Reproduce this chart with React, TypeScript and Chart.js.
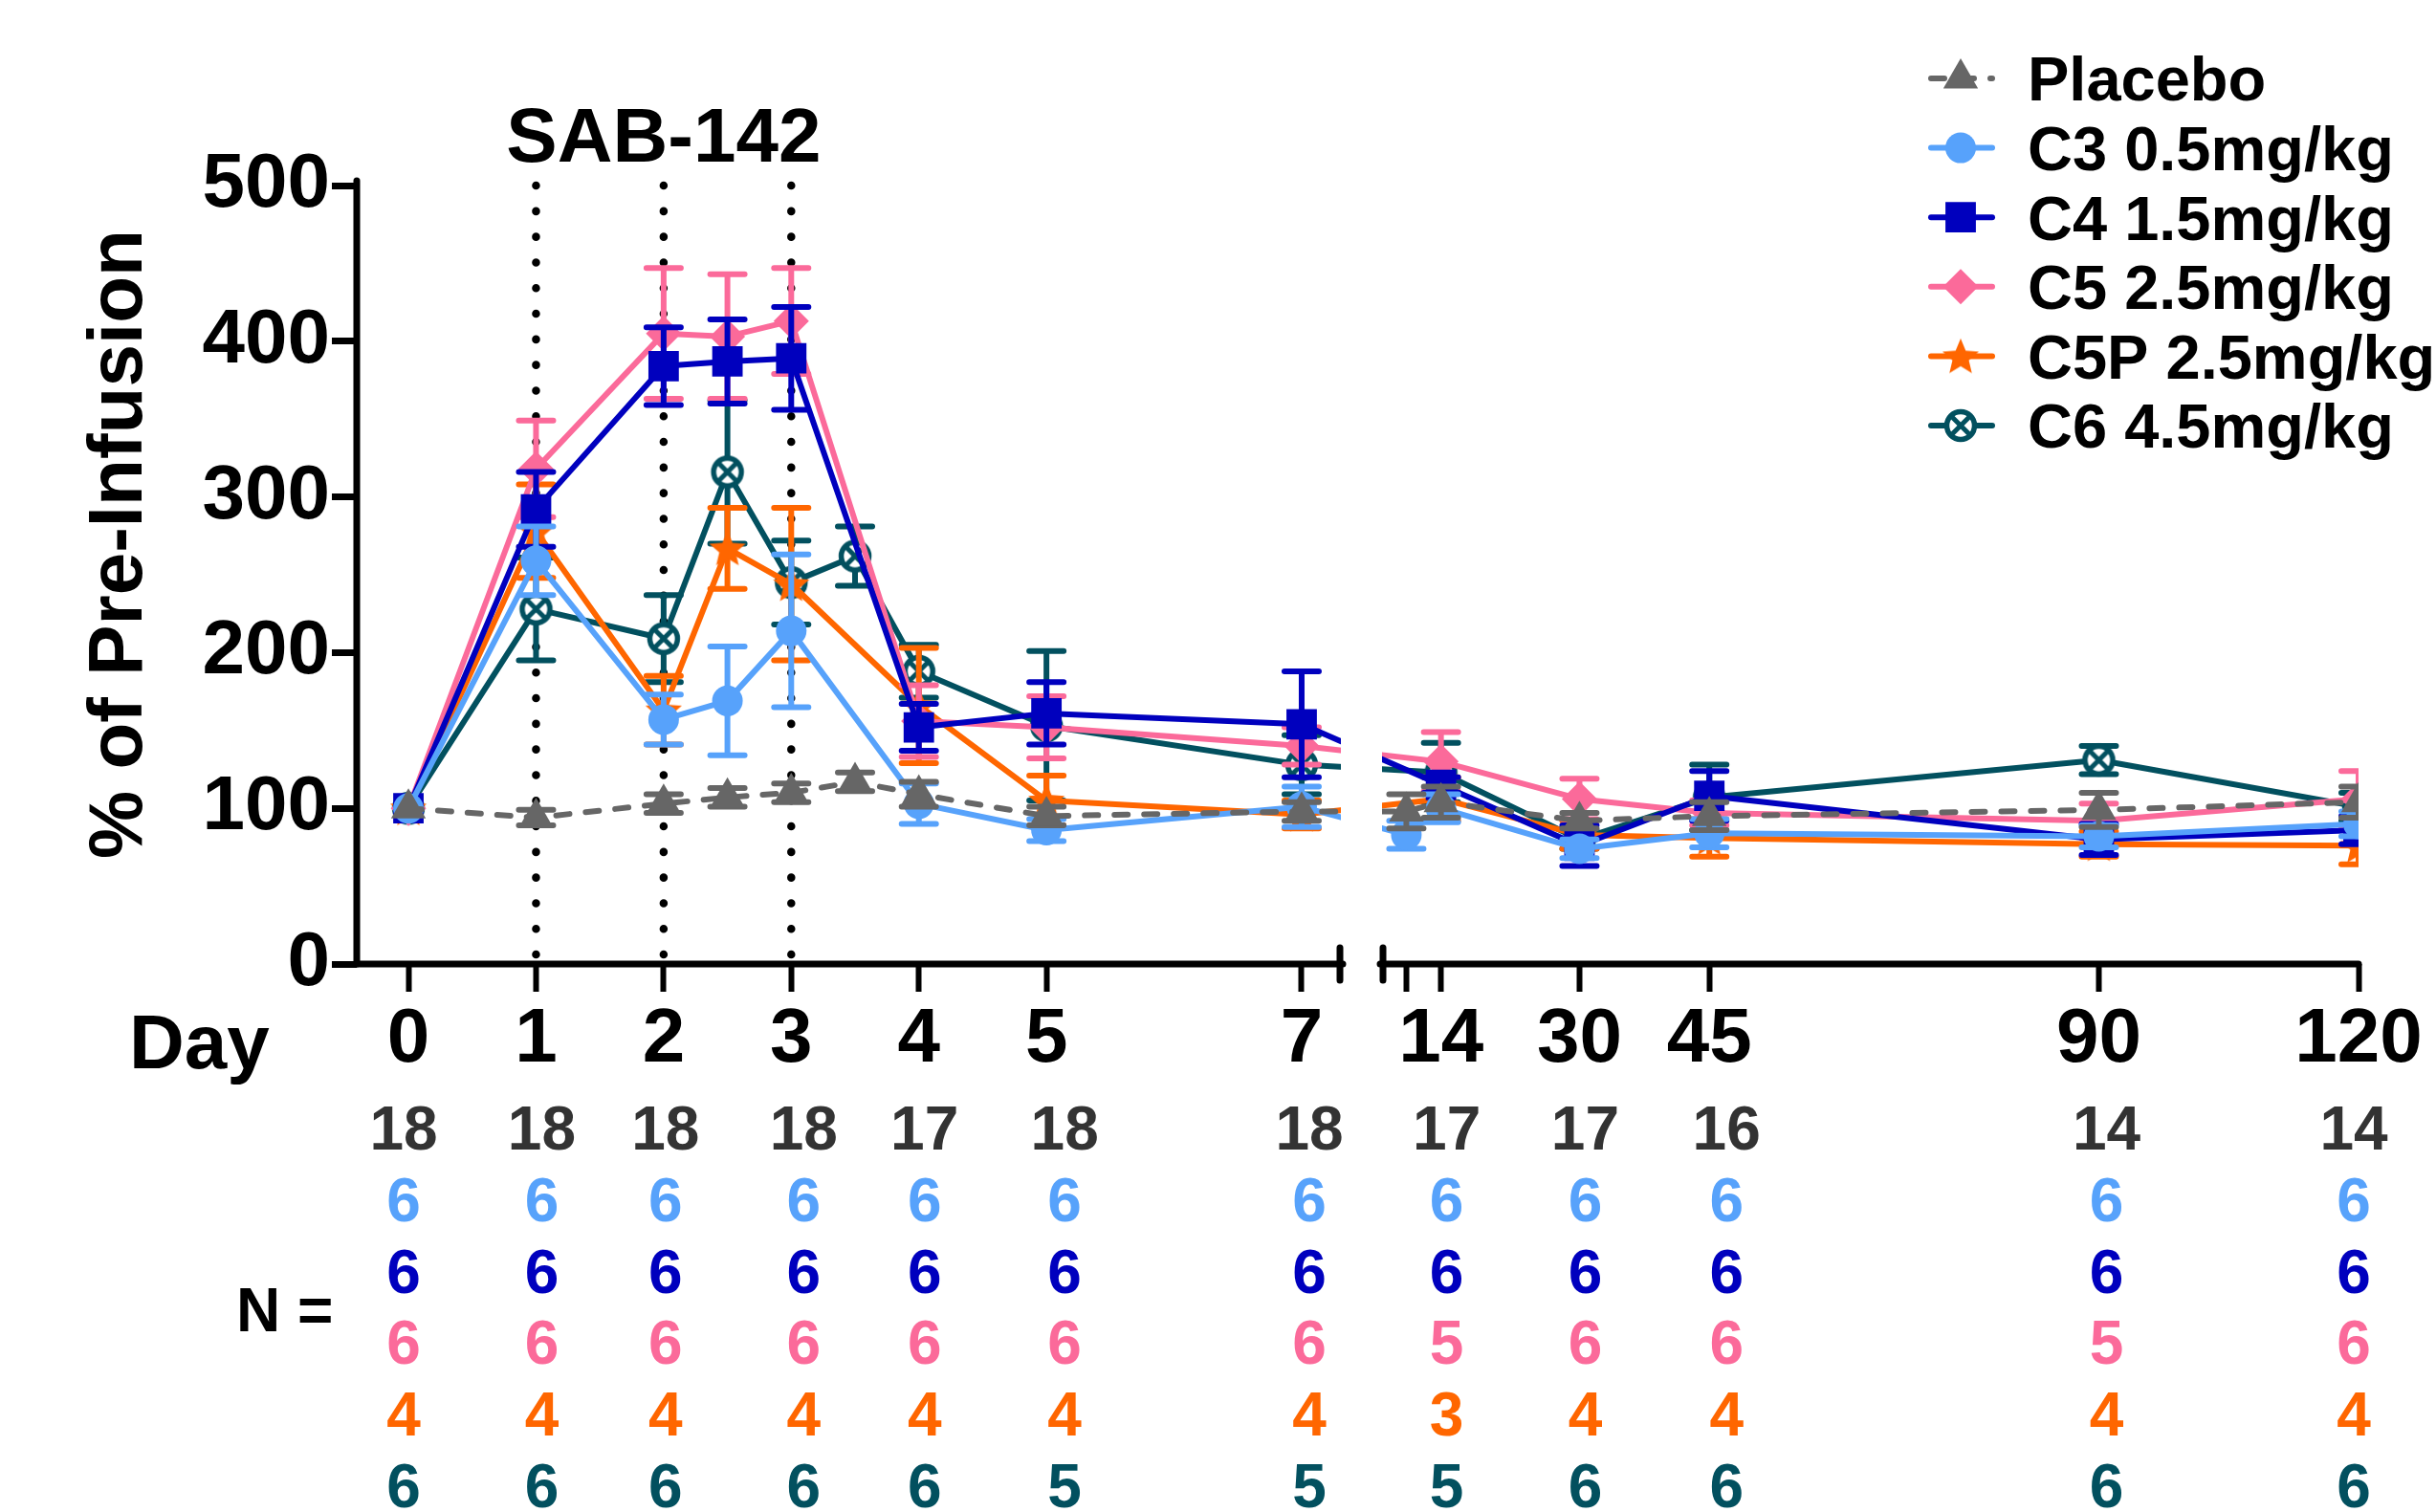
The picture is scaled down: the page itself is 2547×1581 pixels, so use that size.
import React, { useEffect, useRef } from 'react';
import { Chart, LinearScale, registerables } from 'chart.js';

// ---------------- data ----------------
const SERIES_NAMES = ['Placebo', 'C3 0.5mg/kg', 'C4 1.5mg/kg', 'C5 2.5mg/kg', 'C5P 2.5mg/kg', 'C6 4.5mg/kg'];

const PLACEBO_DAYS = [0, 1, 2, 2.5, 3, 3.5, 4, 5, 7, 10, 14, 30, 45, 90, 120];
const PLACEBO_VALUES = [100, 94, 103, 107, 110, 117, 109, 95, 98, 98, 104, 92, 95, 99, 104];
const PLACEBO_SEM = [0, 5, 6, 6, 6, 6, 8, 6, 6, 11, 10, 5, 9, 11, 10];

const C3_DAYS = [0, 1, 2, 2.5, 3, 4, 5, 7, 10, 14, 30, 45, 90, 120];
const C3_VALUES = [100, 259, 157, 169, 214, 103, 86, 101, 83, 100, 74, 84, 82, 90];
const C3_SEM = [0, 22, 16, 35, 49, 13, 7, 13, 9, 9, 6, 9, 7, 8];

const C4_DAYS = [0, 1, 2, 2.5, 3, 4, 5, 7, 14, 30, 45, 90, 120];
const C4_VALUES = [100, 292, 384, 387, 389, 152, 161, 154, 115, 76, 108, 80, 86];
const C4_SEM = [0, 24, 25, 27, 33, 15, 20, 34, 5, 13, 16, 10, 9];

const C5_DAYS = [0, 1, 2, 2.5, 3, 4, 5, 7, 14, 30, 45, 90, 120];
const C5_VALUES = [100, 318, 405, 403, 413, 156, 152, 140, 130, 106, 97, 92, 106];
const C5_SEM = [0, 31, 42, 40, 34, 23, 20, 12, 19, 13, 8, 11, 18];

const C5P_DAYS = [0, 1, 2, 2.5, 3, 4, 5, 7, 14, 30, 45, 90, 120];
const C5P_VALUES = [100, 278, 163, 267, 244, 166, 105, 96, 106, 83, 81, 77, 76];
const C5P_SEM = [0, 30, 22, 26, 49, 37, 16, 9, 14, 9, 12, 8, 12];

const C6_DAYS = [0, 1, 2, 2.5, 3, 3.5, 4, 5, 7, 14, 30, 45, 90, 120];
const C6_VALUES = [100, 228, 209, 316, 245, 262, 188, 153, 128, 123, 80, 107, 131, 101];
const C6_SEM = [0, 33, 28, 46, 27, 19, 17, 48, 19, 19, 6, 21, 9, 9];

const X_TICKS = [0, 1, 2, 3, 4, 5, 7, 10, 14, 30, 45, 90, 120];
const X_TICK_LABELS = ['0', '1', '2', '3', '4', '5', '7', '', '14', '30', '45', '90', '120'];
const Y_TICKS = [0, 100, 200, 300, 400, 500];
const DOSING_DAYS = [1, 2, 3];

const N_DAYS = [0, 1, 2, 3, 4, 5, 7, 14, 30, 45, 90, 120];
const N_TOTAL = [18, 18, 18, 18, 17, 18, 18, 17, 17, 16, 14, 14];
const N_C3 = [6, 6, 6, 6, 6, 6, 6, 6, 6, 6, 6, 6];
const N_C4 = [6, 6, 6, 6, 6, 6, 6, 6, 6, 6, 6, 6];
const N_C5 = [6, 6, 6, 6, 6, 6, 6, 5, 6, 6, 5, 6];
const N_C5P = [4, 4, 4, 4, 4, 4, 4, 3, 4, 4, 4, 4];
const N_C6 = [6, 6, 6, 6, 6, 5, 5, 5, 6, 6, 6, 6];

// ---------------- styles / layout ----------------
const FONT = '"Liberation Sans", Arial, Helvetica, sans-serif';
const W = 2547;
const H = 1581;
const PLOT_LEFT = 373;
const PLOT_TOP = 194;
const PLOT_RIGHT = 2466;
const PLOT_BOTTOM = 1008;

const COLORS = ['#666666', '#57A2FB', '#0000BE', '#FB6A9A', '#FF6600', '#02505F'];
const N_TOTAL_COLOR = '#333333';
const N_NUDGE = [-5, 6, 2, 13, 6, 19, 8, 6, 6, 18, 8, -5];

// broken x axis: [X_MIN, X_BREAK] | gap | [X_BREAK, X_MAX]
const X_MIN = -0.405;
const X_BREAK = 7.3;
const X_MAX = 120;
const SEG1_FRAC = 1028 / 2093;
const GAP_FRAC = 45 / 2093;

function brokenDecimal(v: number) {
  if (v <= X_BREAK) return ((v - X_MIN) / (X_BREAK - X_MIN)) * SEG1_FRAC;
  return SEG1_FRAC + GAP_FRAC + ((v - X_BREAK) / (X_MAX - X_BREAK)) * (1 - SEG1_FRAC - GAP_FRAC);
}
function brokenValue(d: number) {
  if (d <= SEG1_FRAC) return X_MIN + (d / SEG1_FRAC) * (X_BREAK - X_MIN);
  if (d < SEG1_FRAC + GAP_FRAC) return X_BREAK;
  return X_BREAK + ((d - SEG1_FRAC - GAP_FRAC) / (1 - SEG1_FRAC - GAP_FRAC)) * (X_MAX - X_BREAK);
}

class BrokenLinearScale extends LinearScale {
  static id = 'brokenLinear';
  static defaults = LinearScale.defaults;
  getPixelForValue(value: any) {
    if (value === null || value === undefined || isNaN(value)) return NaN;
    return this.getPixelForDecimal(brokenDecimal(value));
  }
  getValueForPixel(pixel: number) {
    return brokenValue(this.getDecimalForPixel(pixel));
  }
}

Chart.register(...registerables, BrokenLinearScale as any);

const SERIES = [
  { name: SERIES_NAMES[0], days: PLACEBO_DAYS, values: PLACEBO_VALUES, sem: PLACEBO_SEM, color: COLORS[0], marker: 'triangle', radius: 21, dash: [14, 17] },
  { name: SERIES_NAMES[1], days: C3_DAYS, values: C3_VALUES, sem: C3_SEM, color: COLORS[1], marker: 'circle', radius: 16, dash: [] },
  { name: SERIES_NAMES[2], days: C4_DAYS, values: C4_VALUES, sem: C4_SEM, color: COLORS[2], marker: 'rect', radius: 22.5, dash: [] },
  { name: SERIES_NAMES[3], days: C5_DAYS, values: C5_VALUES, sem: C5_SEM, color: COLORS[3], marker: 'rectRot', radius: 18.5, dash: [] },
  { name: SERIES_NAMES[4], days: C5P_DAYS, values: C5P_VALUES, sem: C5P_SEM, color: COLORS[4], marker: 'star', radius: 16, dash: [] },
  { name: SERIES_NAMES[5], days: C6_DAYS, values: C6_VALUES, sem: C6_SEM, color: COLORS[5], marker: 'circleX', radius: 16, dash: [] },
];

const N_ROWS = [
  { values: N_TOTAL, color: N_TOTAL_COLOR },
  { values: N_C3, color: COLORS[1] },
  { values: N_C4, color: COLORS[2] },
  { values: N_C5, color: COLORS[3] },
  { values: N_C5P, color: COLORS[4] },
  { values: N_C6, color: COLORS[5] },
];

function makeStar(color: string) {
  const c = document.createElement('canvas');
  c.width = 44;
  c.height = 44;
  const g = c.getContext('2d')!;
  const R = 20;
  const r = 9;
  g.fillStyle = color;
  g.beginPath();
  for (let i = 0; i < 10; i++) {
    const rad = (Math.PI / 5) * i - Math.PI / 2;
    const rr = i % 2 === 0 ? R : r;
    const px = 22 + Math.cos(rad) * rr;
    const py = 23.5 + Math.sin(rad) * rr;
    if (i === 0) g.moveTo(px, py);
    else g.lineTo(px, py);
  }
  g.closePath();
  g.fill();
  return c;
}

function makeCircleX(color: string) {
  const c = document.createElement('canvas');
  c.width = 38;
  c.height = 38;
  const g = c.getContext('2d')!;
  g.fillStyle = '#ffffff';
  g.beginPath();
  g.arc(19, 19, 14.5, 0, Math.PI * 2);
  g.fill();
  g.strokeStyle = color;
  g.lineWidth = 5.5;
  g.stroke();
  g.lineWidth = 5;
  const d = 14.5 * Math.SQRT1_2;
  g.beginPath();
  g.moveTo(19 - d, 19 - d);
  g.lineTo(19 + d, 19 + d);
  g.moveTo(19 + d, 19 - d);
  g.lineTo(19 - d, 19 + d);
  g.stroke();
  return c;
}

function drawMarker(ctx: CanvasRenderingContext2D, style: any, x: number, y: number, r: number, color: string) {
  ctx.save();
  ctx.fillStyle = color;
  if (typeof style !== 'string') {
    ctx.drawImage(style, x - style.width / 2, y - style.height / 2);
    ctx.restore();
    return;
  }
  ctx.beginPath();
  if (style === 'circle') {
    ctx.arc(x, y, r, 0, Math.PI * 2);
  } else if (style === 'rect') {
    const s = Math.SQRT1_2 * r;
    ctx.rect(x - s, y - s, 2 * s, 2 * s);
  } else if (style === 'rectRot') {
    ctx.moveTo(x - r, y);
    ctx.lineTo(x, y - r);
    ctx.lineTo(x + r, y);
    ctx.lineTo(x, y + r);
    ctx.closePath();
  } else if (style === 'triangle') {
    let rad = 0;
    ctx.moveTo(x + Math.sin(rad) * r, y - Math.cos(rad) * r);
    rad += (2 * Math.PI) / 3;
    ctx.lineTo(x + Math.sin(rad) * r, y - Math.cos(rad) * r);
    rad += (2 * Math.PI) / 3;
    ctx.lineTo(x + Math.sin(rad) * r, y - Math.cos(rad) * r);
    ctx.closePath();
  }
  ctx.fill();
  ctx.restore();
}

const errorBarPlugin = {
  id: 'errorBars',
  beforeDatasetDraw(chart: any, args: any) {
    const s = SERIES[args.index];
    if (!s) return;
    const { ctx, chartArea } = chart;
    const xs = chart.scales.x;
    const ys = chart.scales.y;
    ctx.save();
    ctx.beginPath();
    ctx.rect(chartArea.left, chartArea.top, chartArea.right - chartArea.left, chartArea.bottom - chartArea.top);
    ctx.clip();
    ctx.strokeStyle = s.color;
    ctx.lineWidth = 6;
    ctx.lineCap = 'round';
    ctx.setLineDash([]);
    const half = 18;
    s.days.forEach((d, i) => {
      const e = s.sem[i];
      if (!e) return;
      const x = xs.getPixelForValue(d);
      const yt = ys.getPixelForValue(s.values[i] + e);
      const yb = ys.getPixelForValue(s.values[i] - e);
      ctx.beginPath();
      ctx.moveTo(x, yt);
      ctx.lineTo(x, yb);
      ctx.moveTo(x - half, yt);
      ctx.lineTo(x + half, yt);
      ctx.moveTo(x - half, yb);
      ctx.lineTo(x + half, yb);
      ctx.stroke();
    });
    ctx.restore();
  },
};

function makeDecorPlugin(styles: any[]) {
  return {
    id: 'decor',
    beforeDatasetsDraw(chart: any) {
      const { ctx } = chart;
      const xs = chart.scales.x;
      const ys = chart.scales.y;
      ctx.save();
      ctx.strokeStyle = '#000';
      ctx.lineWidth = 8.5;
      ctx.lineCap = 'round';
      ctx.setLineDash([0.1, 26.7]);
      for (const d of DOSING_DAYS) {
        const x = xs.getPixelForValue(d);
        ctx.beginPath();
        ctx.moveTo(x, ys.getPixelForValue(500));
        ctx.lineTo(x, ys.getPixelForValue(0));
        ctx.stroke();
      }
      ctx.restore();
    },
    afterDatasetsDraw(chart: any) {
      const { ctx } = chart;
      const xs = chart.scales.x;
      const bl = xs.left + SEG1_FRAC * xs.width;
      const br = bl + GAP_FRAC * xs.width;
      ctx.save();
      ctx.fillStyle = '#ffffff';
      ctx.fillRect(bl + 1, 0, br - bl - 2, PLOT_BOTTOM);
      ctx.restore();
    },
    afterDraw(chart: any) {
      const { ctx } = chart;
      const xs = chart.scales.x;
      const ys = chart.scales.y;
      const bl = xs.left + SEG1_FRAC * xs.width;
      const br = bl + GAP_FRAC * xs.width;
      const y0 = ys.getPixelForValue(0);
      ctx.save();
      ctx.strokeStyle = '#000';
      ctx.lineWidth = 7;
      ctx.lineCap = 'round';
      ctx.setLineDash([]);
      // y axis
      ctx.beginPath();
      ctx.moveTo(PLOT_LEFT, ys.getPixelForValue(500) - 5);
      ctx.lineTo(PLOT_LEFT, y0);
      ctx.stroke();
      // x axis, two segments
      ctx.beginPath();
      ctx.moveTo(PLOT_LEFT, y0);
      ctx.lineTo(bl + 3, y0);
      ctx.moveTo(br - 3, y0);
      ctx.lineTo(xs.right, y0);
      ctx.stroke();
      // break marks
      ctx.beginPath();
      ctx.moveTo(bl, y0 - 17);
      ctx.lineTo(bl, y0 + 17);
      ctx.moveTo(br, y0 - 17);
      ctx.lineTo(br, y0 + 17);
      ctx.stroke();

      ctx.fillStyle = '#000';
      // SAB-142 label
      ctx.font = `bold 80px ${FONT}`;
      ctx.textAlign = 'center';
      ctx.textBaseline = 'alphabetic';
      ctx.fillText('SAB-142', xs.getPixelForValue(2), 169);
      // y title
      ctx.save();
      ctx.translate(148, 569);
      ctx.rotate(-Math.PI / 2);
      ctx.textAlign = 'center';
      ctx.fillText('% of Pre-Infusion', 0, 0);
      ctx.restore();
      // Day label
      ctx.textAlign = 'left';
      ctx.fillText('Day', 135, 1117);

      // N table
      ctx.font = `bold 64px ${FONT}`;
      ctx.textAlign = 'left';
      ctx.fillText('N =', 247, 1369 + 23);
      ctx.textAlign = 'center';
      N_ROWS.forEach((row, ri) => {
        const cy = 1179 + ri * 74.8;
        ctx.fillStyle = row.color;
        row.values.forEach((v, ci) => {
          const x = xs.getPixelForValue(N_DAYS[ci]) + N_NUDGE[ci];
          ctx.fillText(String(v), x, cy + 23);
        });
      });

      // legend
      ctx.font = `bold 65px ${FONT}`;
      ctx.textAlign = 'left';
      SERIES.forEach((s, i) => {
        const cy = 82 + i * 72.6;
        ctx.save();
        ctx.strokeStyle = s.color;
        ctx.lineWidth = 6;
        ctx.lineCap = 'round';
        ctx.setLineDash(s.dash);
        ctx.beginPath();
        ctx.moveTo(2019, cy);
        ctx.lineTo(2083, cy);
        ctx.stroke();
        ctx.restore();
        drawMarker(ctx, styles[i], 2050, cy, s.radius, s.color);
        ctx.fillStyle = '#000';
        ctx.fillText(s.name, 2120, cy + 23.3);
      });
      ctx.restore();
    },
  };
}

export default function App() {
  const ref = useRef<HTMLCanvasElement>(null);
  useEffect(() => {
    const canvas = ref.current!;
    const star = makeStar(COLORS[4]);
    const circleX = makeCircleX(COLORS[5]);
    const styles = SERIES.map((s) => (s.marker === 'star' ? star : s.marker === 'circleX' ? circleX : s.marker));

    const datasets = SERIES.map((s, i) => ({
      label: s.name,
      data: s.days.map((d, j) => ({ x: d, y: s.values[j] })),
      borderColor: s.color,
      backgroundColor: s.color,
      borderWidth: 6,
      borderDash: s.dash,
      borderCapStyle: 'round',
      borderJoinStyle: 'round',
      pointStyle: styles[i],
      pointRadius: s.radius,
      pointHoverRadius: s.radius,
      pointBackgroundColor: s.color,
      pointBorderColor: s.color,
      pointBorderWidth: 0,
      tension: 0,
      fill: false,
      clip: 0,
    }));

    const chart = new Chart(canvas, {
      type: 'line',
      data: { datasets } as any,
      options: {
        responsive: false,
        maintainAspectRatio: false,
        animation: false,
        devicePixelRatio: 1,
        events: [],
        layout: { padding: { top: PLOT_TOP, right: W - PLOT_RIGHT, left: 0, bottom: 0 } },
        plugins: {
          legend: { display: false },
          title: { display: false },
          tooltip: { enabled: false },
        },
        scales: {
          x: {
            type: 'brokenLinear' as any,
            min: X_MIN,
            max: X_MAX,
            afterBuildTicks: (scale: any) => {
              scale.ticks = X_TICKS.map((v) => ({ value: v }));
            },
            afterFit: (scale: any) => {
              scale.height = H - PLOT_BOTTOM;
            },
            border: { display: false },
            grid: {
              drawOnChartArea: false,
              drawTicks: true,
              tickLength: 29,
              tickWidth: 6,
              tickColor: '#000',
              color: '#000',
            },
            ticks: {
              autoSkip: false,
              maxRotation: 0,
              minRotation: 0,
              padding: 3,
              color: '#000',
              font: { family: FONT, weight: 'bold', size: 80 },
              callback: (v: any) => {
                const k = X_TICKS.indexOf(Number(v));
                return k >= 0 ? X_TICK_LABELS[k] : '';
              },
            },
          } as any,
          y: {
            type: 'linear',
            min: 0,
            max: 500,
            afterBuildTicks: (scale: any) => {
              scale.ticks = Y_TICKS.map((v) => ({ value: v }));
            },
            afterFit: (scale: any) => {
              scale.width = PLOT_LEFT;
            },
            border: { display: false },
            grid: {
              drawOnChartArea: false,
              drawTicks: true,
              tickLength: 26,
              tickWidth: 7,
              tickColor: '#000',
              color: '#000',
            },
            ticks: {
              padding: 2,
              color: '#000',
              font: { family: FONT, weight: 'bold', size: 80 },
              callback: (v: any) => String(v),
            },
          },
        },
      } as any,
      plugins: [errorBarPlugin, makeDecorPlugin(styles)] as any,
    });
    return () => chart.destroy();
  }, []);

  return (
    <div style={{ position: 'absolute', left: 0, top: 0, width: W, height: H, background: '#ffffff' }}>
      <canvas ref={ref} width={W} height={H} style={{ display: 'block', width: W, height: H }} />
    </div>
  );
}
